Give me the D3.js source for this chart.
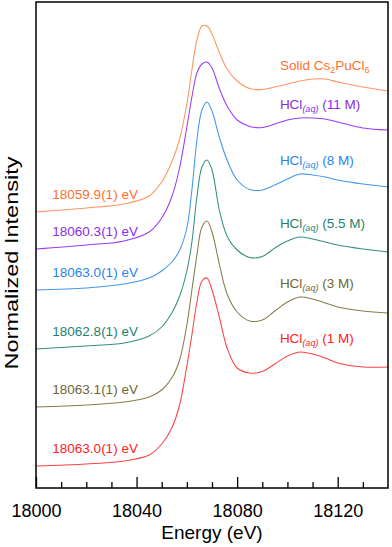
<!DOCTYPE html>
<meta charset="utf-8">
<style>
body {
  margin: 0;
  background: #fff;
}
svg {
  display: block;
  font-family: "Liberation Sans", Arial, sans-serif;
}
.frame {
  fill: none;
  stroke: #000;
  stroke-width: 1.5;
}
.spectrum {
  fill: none;
  stroke-width: 1.05;
}
.axis path { display: none; }
.axis line { stroke: #000; stroke-width: 1.3; }
.axis text { font-size: 18px; fill: #000; }
</style>

<svg id="chart" width="392" height="547"></svg>

<script src="https://cdn.jsdelivr.net/npm/d3@7"></script>
<script>

// energy grid (eV) shared by all spectra
var energy = [18000, 18020, 18035, 18045, 18050, 18054, 18057, 18060, 18062, 18064,
              18066, 18068, 18070, 18073, 18076, 18080, 18085, 18090, 18095, 18100,
              18105, 18110, 18115, 18120, 18130, 18140];

// normalized intensity of each spectrum
var solidCs2PuCl6 = [0, 0.04, 0.08, 0.16, 0.30, 0.50, 0.72, 1.08, 1.42, 1.72,
                     1.86, 1.86, 1.78, 1.59, 1.43, 1.31, 1.235, 1.225, 1.25, 1.28,
                     1.31, 1.33, 1.33, 1.30, 1.25, 1.21];
var hcl11M = [0, 0.04, 0.08, 0.17, 0.31, 0.52, 0.80, 1.22, 1.52, 1.76,
              1.85, 1.87, 1.81, 1.60, 1.43, 1.29, 1.225, 1.215, 1.25, 1.29,
              1.31, 1.31, 1.30, 1.27, 1.21, 1.19];
var hcl8M = [0, 0.02, 0.06, 0.12, 0.19, 0.28, 0.39, 0.62, 1.00, 1.50,
             1.80, 1.88, 1.79, 1.52, 1.30, 1.10, 1.005, 1.00, 1.05, 1.11,
             1.16, 1.15, 1.13, 1.10, 1.06, 1.03];
var hcl55M = [0, 0.03, 0.06, 0.13, 0.22, 0.36, 0.52, 0.78, 1.07, 1.52,
              1.82, 1.89, 1.79, 1.38, 1.13, 0.99, 0.915, 0.925, 1.01, 1.08,
              1.12, 1.10, 1.07, 1.04, 1.00, 0.97];
var hcl3M = [0, 0.02, 0.05, 0.10, 0.17, 0.29, 0.46, 0.82, 1.17, 1.52,
             1.80, 1.86, 1.75, 1.42, 1.13, 0.95, 0.86, 0.87, 0.96, 1.05,
             1.10, 1.08, 1.04, 1.00, 0.96, 0.94];
var hcl1M = [0, 0.02, 0.05, 0.11, 0.22, 0.38, 0.60, 1.00, 1.31, 1.64,
             1.85, 1.88, 1.76, 1.48, 1.18, 0.98, 0.93, 0.945, 1.02, 1.10,
             1.14, 1.12, 1.08, 1.03, 0.99, 0.99];

// vertical stacking offsets
var offsets = [2.54, 2.17, 1.76, 1.17, 0.59, 0];

// edge energies
var edgeLabels = ["18059.9(1) eV", "18060.3(1) eV", "18063.0(1) eV",
                  "18062.8(1) eV", "18063.1(1) eV", "18063.0(1) eV"];

// sample names: pieces of text with their style
var sampleNames = [
  [["Solid Cs", ""], ["2", "sub"], ["PuCl", ""], ["6", "sub"]],
  [["HCl", ""], ["(aq)", "subi"], [" (11 M)", ""]],
  [["HCl", ""], ["(aq)", "subi"], [" (8 M)", ""]],
  [["HCl", ""], ["(aq)", "subi"], [" (5.5 M)", ""]],
  [["HCl", ""], ["(aq)", "subi"], [" (3 M)", ""]],
  [["HCl", ""], ["(aq)", "subi"], [" (1 M)", ""]]
];

var lineColors = ["#ff9560", "#9b3cf5", "#4096f0", "#339080", "#877c48", "#ff4040"];
var textColors = ["#ff6f2e", "#8a2be8", "#2a84ea", "#1f7f72", "#6f6630", "#ff2222"];

var spectra = [solidCs2PuCl6, hcl11M, hcl8M, hcl55M, hcl3M, hcl1M];

var svg = d3.select("#chart"),
    W = +svg.attr("width"),
    H = +svg.attr("height");

var margin = {top: 2, right: 4, bottom: 59, left: 36};

var x = d3.scaleLinear()
    .domain([18000, 18140])
    .range([margin.left, W - margin.right]);

var y = d3.scaleLinear()
    .domain([-0.22, 4.64])
    .range([H - margin.bottom, margin.top]);

var line = d3.line()
    .x(function(d) { return x(d[0]); })
    .y(function(d) { return y(d[1]); })
    .curve(d3.curveCatmullRom.alpha(0.5));

// spectra
spectra.forEach(function(vals, i) {
  var pts = energy.map(function(e, j) { return [e, vals[j] + offsets[i]]; });
  svg.append("path")
      .attr("class", "spectrum")
      .attr("stroke", lineColors[i])
      .attr("d", line(pts));

  // edge energy label just above the pre-edge baseline
  svg.append("text")
      .attr("x", x(18006.5))
      .attr("y", y(offsets[i]) - 13)
      .attr("fill", textColors[i])
      .style("font-size", "13.5px")
      .text(edgeLabels[i]);

  // sample label above the second EXAFS bump
  var bump = d3.max(energy.map(function(e, j) { return e >= 18090 ? vals[j] : -1; }));
  var t = svg.append("text")
      .attr("x", x(18097))
      .attr("y", y(bump + offsets[i]) - 9)
      .attr("fill", textColors[i])
      .style("font-size", "13.5px");
  sampleNames[i].forEach(function(p) {
    var ts = t.append("tspan").text(p[0]);
    if (p[1] == "sub") {
      ts.attr("dy", 3).style("font-size", "9px");
    } else if (p[1] == "subi") {
      ts.attr("dy", 3).style("font-size", "9px").style("font-style", "italic");
    } else if (ts.node().previousSibling) {
      ts.attr("dy", -3);
    }
  });
});

// bottom axis, ticks pointing inward
svg.append("g")
    .attr("class", "axis")
    .attr("transform", "translate(0," + y.range()[0] + ")")
    .call(d3.axisBottom(x)
      .tickValues(d3.range(18010, 18140, 10).filter(function(v) { return v % 40 != 0; }))
      .tickSize(-6)
      .tickFormat(""));

svg.append("g")
    .attr("class", "axis")
    .attr("transform", "translate(0," + y.range()[0] + ")")
    .call(d3.axisBottom(x)
      .tickValues([18000, 18040, 18080, 18120])
      .tickSize(-11)
      .tickPadding(16)
      .tickFormat(d3.format("d")));

// frame
svg.append("rect")
    .attr("class", "frame")
    .attr("x", margin.left)
    .attr("y", margin.top)
    .attr("width", W - margin.left - margin.right)
    .attr("height", H - margin.top - margin.bottom);

// axis titles
svg.append("text")
    .attr("x", (margin.left + W - margin.right) / 2)
    .attr("y", 539)
    .attr("text-anchor", "middle")
    .style("font-size", "19px")
    .text("Energy (eV)");

svg.append("text")
    .attr("transform", "translate(18,263)rotate(-90)")
    .attr("text-anchor", "middle")
    .attr("textLength", 213)
    .attr("lengthAdjust", "spacingAndGlyphs")
    .style("font-size", "18px")
    .text("Normalized Intensity");

</script>
